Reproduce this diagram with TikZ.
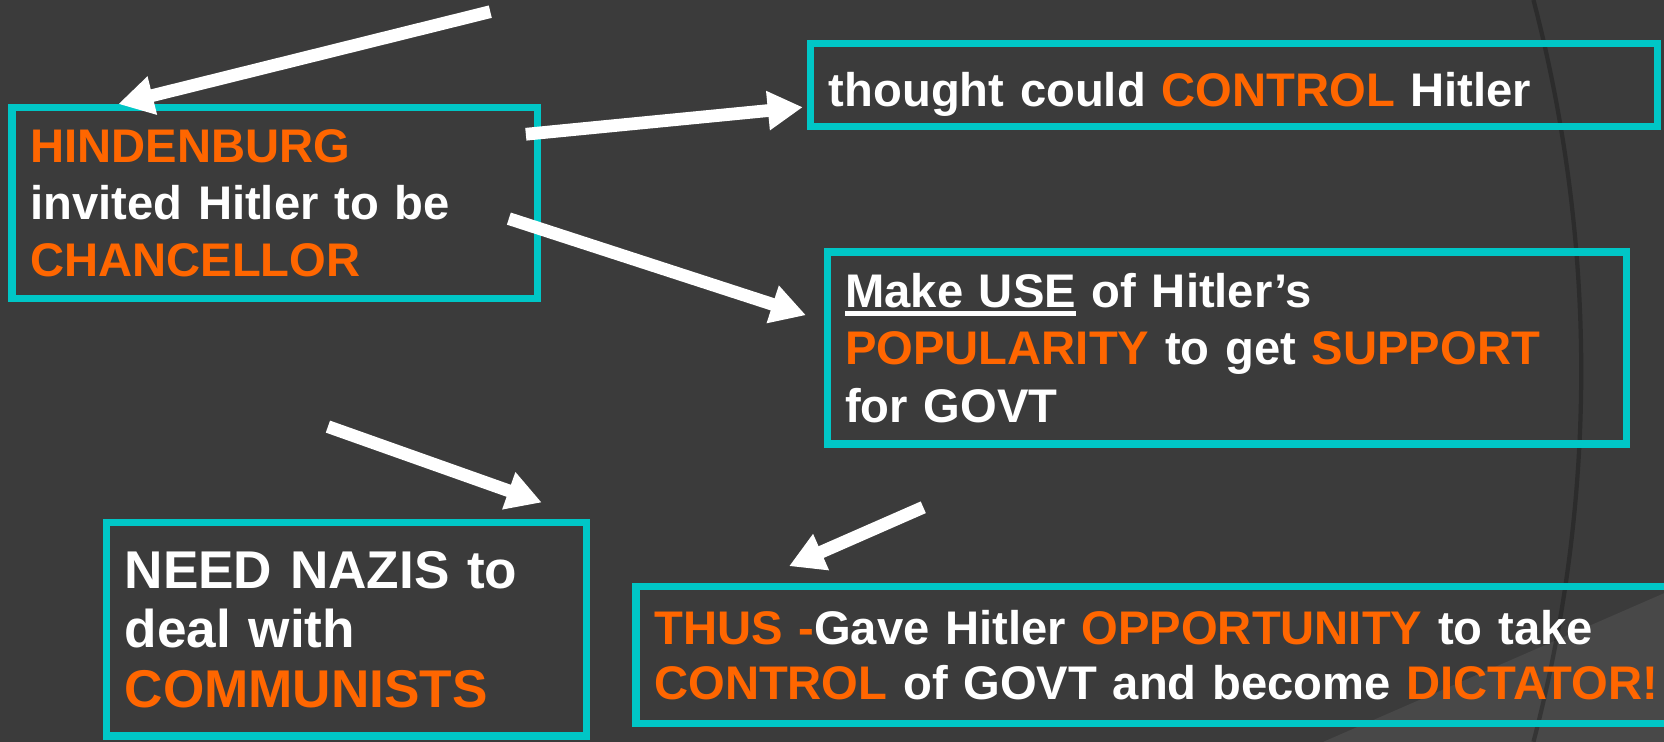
\documentclass[tikz,border=0pt]{standalone}
\usepackage{fontspec}
\setmainfont{Liberation Sans}
\usetikzlibrary{arrows.meta,calc}

\definecolor{slide}{RGB}{59,59,59}
\definecolor{slidelit}{RGB}{72,72,72}
\definecolor{boxteal}{RGB}{0,198,198}
\definecolor{hotorange}{RGB}{255,102,0}

\newcommand{\hot}[1]{\textcolor{hotorange}{#1}}
\newcommand{\undl}[1]{\leavevmode\setbox0\hbox{#1}\rlap{\rule[-4.5pt]{\wd0}{2.6pt}}\box0\relax}

\begin{document}
\begin{tikzpicture}[
    x=0.2mm, y=-0.2mm,
    box/.style={draw=boxteal, line width=1.4mm, inner xsep=3.4mm, inner ysep=0pt, align=left, text=white,
        font=\bfseries\fontsize{25.3pt}{30.6pt}\selectfont},
    arr/.style={-{Triangle[length=6.6mm,width=7mm]}, line width=2.4mm, white}
]
\clip (0,0) rectangle (1568,699);
\fill[slide] (0,0) rectangle (1568,699);
\fill[slidelit] (1247,699) -- (1568,559) -- (1568,699) -- cycle;
\draw[black, opacity=0.25, line width=0.8mm] (1445,0) .. controls (1505,230) and (1505,470) .. (1445,699);

\node[box, minimum width=99mm, text width=92.2mm, minimum height=36mm] (hind) at (259,191.5)
    {\hot{HINDENBURG}\\invited Hitler to be\\\hot{CHANCELLOR}};
\node[box, minimum width=159.6mm, text width=152.8mm, minimum height=15.6mm, text height=8mm, text depth=0pt] (ctrl) at (1163,80)
    {thought could \hot{CONTROL} Hitler};
\node[box, minimum width=150.6mm, text width=143.8mm, minimum height=36.2mm] (use) at (1156,328)
    {\undl{Make USE} of Hitler’s\\\hot{POPULARITY} to get \hot{SUPPORT}\\for GOVT};
\node[box, minimum width=90.4mm, text width=83.6mm, minimum height=40.2mm,
    font=\bfseries\fontsize{28.5pt}{31.9pt}\selectfont] (nazi) at (326.5,593)
    {NEED NAZIS to\\deal with\\\hot{COMMUNISTS}};
\node[box, minimum width=200.1mm, text width=193.3mm, minimum height=25.8mm,
    font=\bfseries\fontsize{25.3pt}{29.6pt}\selectfont] (dict) at (1099.75,617)
    {\hot{THUS -}Gave Hitler \hot{OPPORTUNITY} to take\\\hot{CONTROL} of GOVT and become \hot{DICTATOR!}};

\coordinate (top) at (462,11);
\coordinate (left) at (309,402);
\coordinate (mid) at (870,478);

\draw[arr] (top) -- ($(hind.north west)+(103.5,0)$);
\draw[arr] ($(hind.north east)+(-14.5,28.5)$) -- ($(ctrl.west)+(-4,21)$);
\draw[arr] ($(hind.east)+(-30.5,14.5)$) -- ($(use.west)+(-16.5,-31)$);
\draw[arr] (left) -- ($(nazi.north east)+(-45.5,-15.5)$);
\draw[arr] (mid) -- ($(dict.north west)+(147.5,-15.5)$);
\end{tikzpicture}
\end{document}
